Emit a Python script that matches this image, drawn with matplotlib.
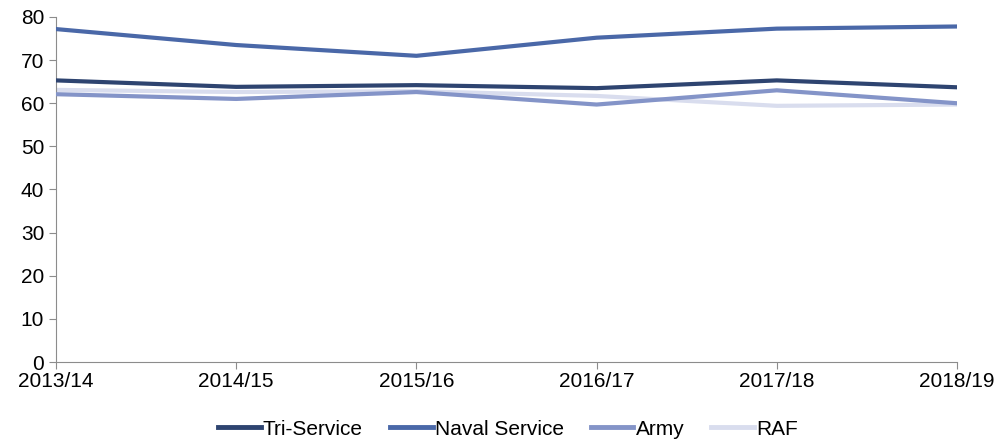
import matplotlib.pyplot as plt

years = ['2013/14', '2014/15', '2015/16', '2016/17', '2017/18', '2018/19']
tri_service = [65.3, 63.8, 64.2, 63.5, 65.3, 63.7]
naval_service = [77.2, 73.5, 71.0, 75.2, 77.3, 77.8]
army = [62.1, 61.0, 62.6, 59.7, 63.0, 60.0]
raf = [63.1, 62.6, 62.8, 61.7, 59.4, 59.7]

plt.rcParams['font.family'] = ['Liberation Sans', 'DejaVu Sans']

fig = plt.figure(figsize=(9.98, 4.44), dpi=100)
ax = fig.add_axes([56 / 998, 82 / 444, 901 / 998, 345 / 444])

x = range(len(years))
ax.plot(x, raf, color='#D9DDEE', lw=3, label='RAF', zorder=2)
ax.plot(x, army, color='#8494C8', lw=3, label='Army', zorder=3)
ax.plot(x, tri_service, color='#2E4470', lw=3, label='Tri-Service', zorder=4)
ax.plot(x, naval_service, color='#4A68A8', lw=3, label='Naval Service', zorder=5)

ax.set_xlim(0, len(years) - 1)
ax.set_ylim(0, 80)
ax.set_yticks(range(0, 81, 10))
ax.set_xticks(list(x))
ax.set_xticklabels(years)

for s in ['top', 'right']:
    ax.spines[s].set_visible(False)
for s in ['left', 'bottom']:
    ax.spines[s].set_color('#8C8C8C')
ax.tick_params(axis='both', colors='#8C8C8C', labelcolor='black', labelsize=15, length=5)
ax.tick_params(axis='x', pad=2)

handles, labels = ax.get_legend_handles_labels()
order = ['Tri-Service', 'Naval Service', 'Army', 'RAF']
h = [handles[labels.index(o)] for o in order]
leg = fig.legend(h, order, loc='lower center', bbox_to_anchor=(0.509, -0.03), ncol=4,
                 frameon=False, fontsize=15, handlelength=2.05, handletextpad=0.1,
                 columnspacing=1.3)
for line in leg.get_lines():
    line.set_linewidth(3.5)

fig.savefig('out.png', dpi=100)
